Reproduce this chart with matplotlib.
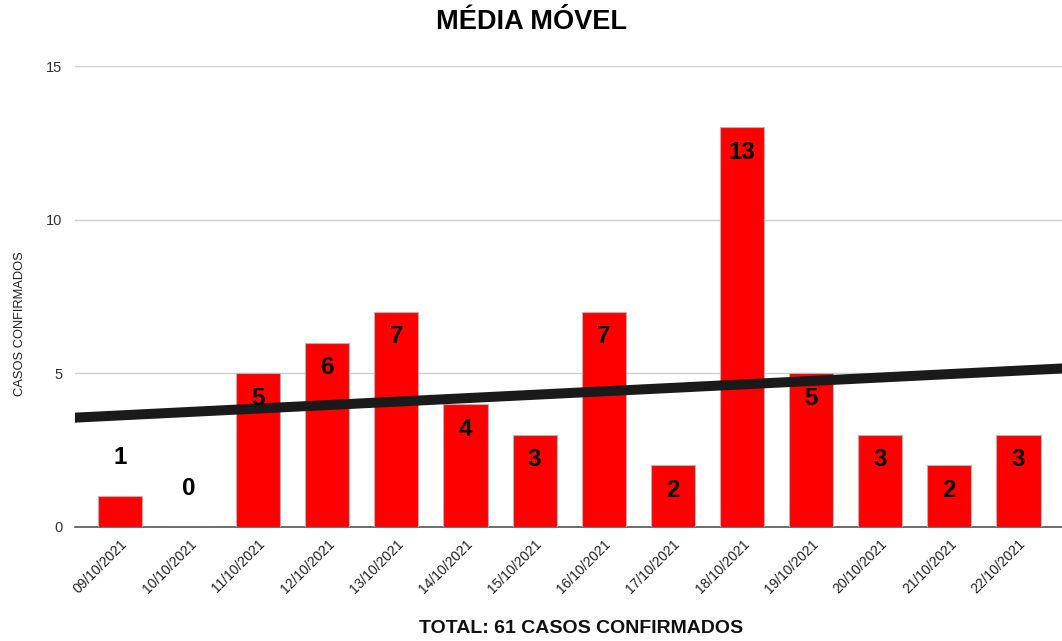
import matplotlib
matplotlib.use("Agg")
import matplotlib.pyplot as plt
import numpy as np

plt.rcParams['font.family'] = ['Liberation Sans', 'DejaVu Sans']

dates = ["09/10/2021", "10/10/2021", "11/10/2021", "12/10/2021", "13/10/2021",
         "14/10/2021", "15/10/2021", "16/10/2021", "17/10/2021", "18/10/2021",
         "19/10/2021", "20/10/2021", "21/10/2021", "22/10/2021"]
casos = [1, 0, 5, 6, 7, 4, 3, 7, 2, 13, 5, 3, 2, 3]
yticks = [0, 5, 10, 15]

fig = plt.figure(figsize=(10.62, 6.41), dpi=100)
ax = fig.add_axes([0.0706, 0.178, 0.9294, 0.719])

x = np.arange(len(casos))
ax.bar(x, casos, width=0.64, color="#ff0000", edgecolor="#b4b4b4",
       linewidth=0.8, zorder=2)

# linha de tendencia (regressao linear)
coef = np.polyfit(x, casos, 1)
xl = np.array([-0.7, len(casos) - 0.35])
ax.plot(xl, np.polyval(coef, xl), color="#1a1a1a", linewidth=7.2,
        solid_capstyle="butt", zorder=3)

for xi, v in zip(x, casos):
    if v >= 2:
        ax.annotate(str(v), (xi, v), xytext=(0, -18), textcoords="offset points",
                    ha="center", va="center", fontsize=17.5, fontweight="bold",
                    zorder=4)
    else:
        ax.annotate(str(v), (xi, v), xytext=(0, 28), textcoords="offset points",
                    ha="center", va="center", fontsize=17.5, fontweight="bold",
                    zorder=4)

ax.set_xlim(-0.65, len(casos) - 0.37)
ax.set_ylim(0, 15)
ax.set_yticks(yticks)
ax.set_xticks(x)
ax.set_xticklabels(dates, rotation=45, ha="right", rotation_mode="anchor",
                   fontsize=10, color="#222222")
ax.tick_params(axis="y", labelsize=10.5, labelcolor="#333333", length=0, pad=9)
ax.tick_params(axis="x", length=0, pad=7)
ax.grid(axis="y", color="#d0d0d0", linewidth=1, zorder=0)
ax.set_axisbelow(True)
for s in ["top", "right", "left"]:
    ax.spines[s].set_visible(False)
ax.spines["bottom"].set_color("#555555")
ax.spines["bottom"].set_linewidth(1.2)
ax.spines["bottom"].set_zorder(1)

ax.set_ylabel("CASOS CONFIRMADOS", fontsize=9.3, color="#222222", labelpad=0)
ax.yaxis.set_label_coords(-0.05, 0.44)
fig.text(0.5, 0.966, "MÉDIA MÓVEL", ha="center", va="center",
         fontsize=19.5, fontweight="bold")
fig.text(0.547, 0.02, "TOTAL: 61 CASOS CONFIRMADOS", ha="center", va="center",
         fontsize=14, fontweight="bold", color="#111111")

fig.savefig("out.png", dpi=100)
